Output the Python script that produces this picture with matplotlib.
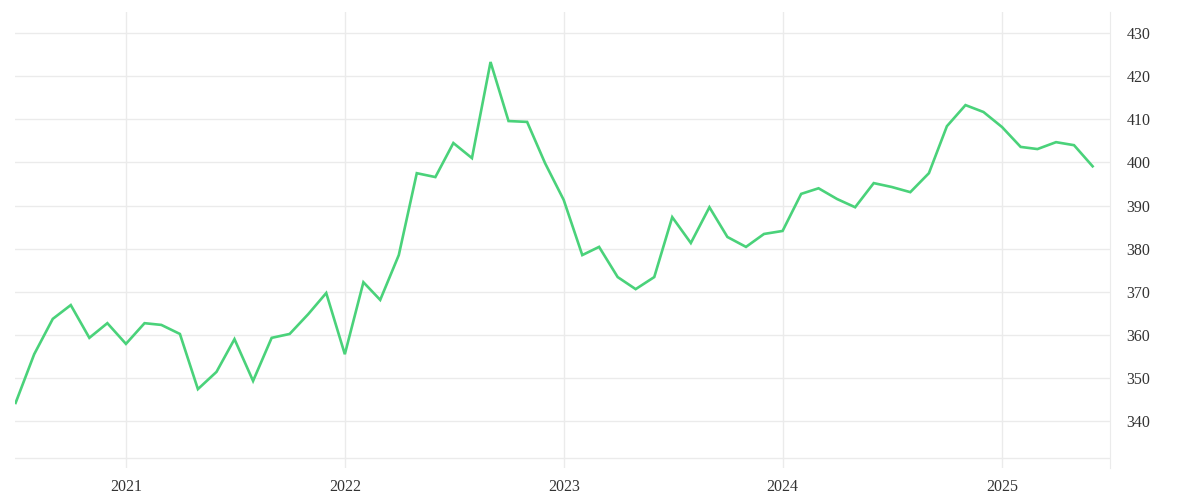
import pandas as pd
import matplotlib.pyplot as plt
import matplotlib.dates as mdates

# monthly values, Jul 2020 .. Jun 2025
months = pd.date_range('2020-07-01', '2025-06-01', freq='MS')
values = [
    344.2, 355.5, 363.7, 366.9, 359.3, 362.7,
    357.9, 362.7, 362.3, 360.2, 347.4, 351.4, 359.0, 349.3, 359.3, 360.2, 364.8, 369.7,
    355.5, 372.2, 368.1, 378.5, 397.5, 396.6, 404.5, 401.0, 423.3, 409.6, 409.4, 399.8,
    391.3, 378.5, 380.4, 373.4, 370.6, 373.4, 387.3, 381.3, 389.6, 382.7, 380.4, 383.4,
    384.1, 392.7, 394.0, 391.5, 389.6, 395.2, 394.3, 393.1, 397.5, 408.4, 413.3, 411.7,
    408.2, 403.6, 403.1, 404.7, 404.0, 399.1,
]
y_ticks = [340, 350, 360, 370, 380, 390, 400, 410, 420, 430]
year_ticks = pd.to_datetime(['2021-01-01', '2022-01-01', '2023-01-01', '2024-01-01', '2025-01-01'])

plt.rcParams['font.family'] = ['Liberation Serif', 'DejaVu Serif']

fig = plt.figure(figsize=(12, 5), dpi=100)
ax = fig.add_axes([0.0125, 0.064, 0.9125, 0.912])

ax.plot(months, values, color='#4ad27a', linewidth=1.9, solid_joinstyle='miter')

ax.set_xlim(pd.Timestamp('2020-06-30'), pd.Timestamp('2025-06-30'))
ax.set_ylim(329.1, 434.9)

ax.yaxis.tick_right()
ax.set_yticks(y_ticks)
ax.set_xticks(year_ticks)
ax.xaxis.set_major_formatter(mdates.DateFormatter('%Y'))

ax.grid(True, color='#ebebeb', linewidth=1)
ax.set_axisbelow(True)
ax.axhline(331.4, color='#ebebeb', linewidth=1, zorder=0)

for side in ['top', 'left', 'bottom']:
    ax.spines[side].set_visible(False)
ax.spines['right'].set_color('#ebebeb')

ax.tick_params(axis='both', length=0, labelsize=11.5, labelcolor='#333333')
ax.tick_params(axis='y', pad=12)
ax.tick_params(axis='x', pad=8)

fig.savefig('out.png', dpi=100)
